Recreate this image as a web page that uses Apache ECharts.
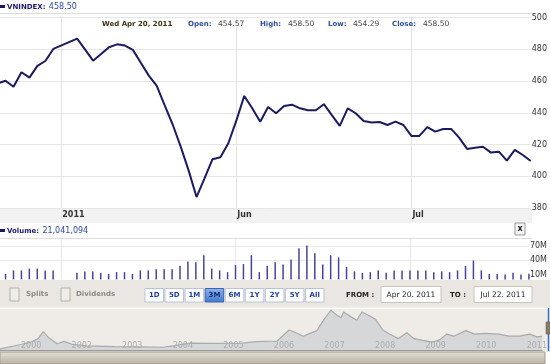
<!DOCTYPE html>
<html><head><meta charset="utf-8">
<script src="https://cdn.jsdelivr.net/npm/echarts@6/dist/echarts.min.js"></script>
<style>html,body{margin:0;padding:0;background:#fff;}#c{width:550px;height:364px;}</style>
</head><body><div id="c"></div>
<script>
// trading-day index (weekdays from Wed Apr 20, 2011 to Fri Jul 22, 2011)
const prices = [458.5,460.2,456.4,465.5,462.1,469.5,472.6,480.2,null,null,
  486.7,479.8,472.8,477.0,481.3,483.1,482.3,479.6,471.5,463.4,
  457.0,444.6,432.6,418.8,403.7,386.9,398.6,410.7,412.0,420.8,
  435.0,450.6,442.8,434.3,443.6,439.7,444.3,445.1,442.8,441.6,
  441.6,445.4,438.5,431.7,442.8,439.7,434.8,433.8,434.2,432.3,
  434.4,432.3,425.4,425.4,430.9,428.1,429.8,429.8,424.3,417.2,
  418.0,418.6,414.9,415.5,409.8,416.6,413.4,409.6];
const volumes = [21.0,11.5,18.8,18.8,22.5,22.5,18.8,18.8,null,null,
  13.7,16.6,16.6,13.7,11.5,15.1,15.1,11.5,18.8,18.8,
  21.0,21.0,21.0,28.3,37.1,35.6,50.3,22.5,18.8,15.1,
  29.8,32.0,50.3,15.1,28.3,35.6,31.2,41.5,64.9,70.7,
  54.6,31.2,50.3,45.9,26.1,16.6,13.7,15.1,18.8,13.7,
  18.8,18.8,18.8,18.8,18.8,15.1,16.6,15.1,18.8,28.3,
  39.3,18.8,11.5,11.5,10.0,13.7,10.0,12.0];
const monthTickIdx = [8, 30, 52];
const monthLabels = ['2011', 'Jun', 'Jul'];
const priceTicks = [380, 400, 420, 440, 460, 480, 500];
const volumeTicks = [10, 40, 70];
const volumeGrid = [40, 70];
// navigator (long-term history), position in label units, index level
const navPos = [-0.616,-0.205,0,0.138,0.24,0.343,0.514,0.651,0.822,1.096,1.645,2.124,2.603,2.809,3.152,3.494,4.178,4.452,4.863,5.103,5.24,5.377,5.514,5.651,5.788,5.926,6.027,6.13,6.179,6.302,6.439,6.542,6.679,6.815,6.953,7.089,7.261,7.432,7.569,7.741,7.945,8.082,8.22,8.356,8.596,8.768,8.973,9.247,9.452,9.657,9.864,10.0,10.105];
const navValues = [51,184,255,357,561,388,204,275,184,143,122,112,102,143,224,214,224,265,286,612,530,428,510,592,918,1193,1071,969,1142,1020,898,1142,1040,918,612,490,357,530,357,306,255,326,490,428,592,490,510,490,428,428,490,408,420];
const navLabels = ['2000','2002','2003','2004','2005','2006','2007','2008','2009','2010','2011'];
const rangeButtons = ['1D','5D','1M','3M','6M','1Y','2Y','5Y','All'];
const selectedRange = '3M';
const header = {name:'VNINDEX:', last:'458.50', date:'Wed Apr 20, 2011', open:'454.57', high:'458.50', low:'454.29', close:'458.50', volume:'21,041,094', from:'Apr 20. 2011', to:'Jul 22. 2011'};

const FONT = 'DejaVu Sans';
const priceData = prices.map((v,i)=>[i,v]);
const volData = volumes.map((v,i)=>[i,v]);
const navData = navPos.map((p,i)=>[p,navValues[i]]);

const chart = echarts.init(document.getElementById('c'), null, {renderer:'canvas'});

const gfx = [];
// controls band + navigator backgrounds
gfx.push({type:'rect', shape:{x:0,y:280,width:550,height:26}, style:{fill:'#eae7e2'}, z:0});
gfx.push({type:'rect', shape:{x:0,y:306,width:550,height:46}, style:{fill:'#efece7'}, z:0});
gfx.push({type:'rect', shape:{x:0,y:352,width:545,height:12}, style:{fill:new echarts.graphic.LinearGradient(0,0,0,1,[{offset:0,color:'#e4dfd6'},{offset:1,color:'#b9b1a3'}]), stroke:'#a39b8d', lineWidth:1}, z:0});
gfx.push({type:'line', shape:{x1:0,y1:308.5,x2:550,y2:308.5}, style:{stroke:'#ffffff', lineWidth:1}, z:5});
// x-axis band
gfx.push({type:'rect', shape:{x:0,y:209,width:532,height:14}, style:{fill:'#f2f2f2'}, z:0});
// header
gfx.push({type:'rect', shape:{x:0,y:5,width:5,height:3}, style:{fill:'#1a1a5e'}, z:10});
gfx.push({type:'text', x:7, y:7, style:{text:'{a|'+header.name+'} {b|'+header.last+'}', verticalAlign:'middle', rich:{a:{font:'bold 7px '+FONT, fill:'#1a1a6e'}, b:{font:'8px '+FONT, fill:'#2a4aa0'}}}, z:10});
gfx.push({type:'line', shape:{x1:0,y1:13.5,x2:532,y2:13.5}, style:{stroke:'#dddddd', lineWidth:1}, z:1});
// info row
const info = [[102,header.date,'#3f3212',1],[188,'Open:','#2f4fa0',1],[218,header.open,'#444',0],[260,'High:','#2f4fa0',1],[288,header.high,'#444',0],[328,'Low:','#2f4fa0',1],[353,header.low,'#444',0],[392,'Close:','#2f4fa0',1],[423,header.close,'#444',0]];
info.forEach(([x,t,c,b])=>{
  gfx.push({type:'text', x:x, y:24, style:{text:t, font:(b?'bold 7px ':'7.5px ')+FONT, fill:c, verticalAlign:'middle'}, z:10});
});
// volume header
gfx.push({type:'rect', shape:{x:0,y:229,width:5,height:3}, style:{fill:'#1a1a5e'}, z:10});
gfx.push({type:'text', x:7, y:231, style:{text:'{a|Volume:} {b|'+header.volume+'}', verticalAlign:'middle', rich:{a:{font:'bold 7px '+FONT, fill:'#1a1a6e'}, b:{font:'8px '+FONT, fill:'#2a4aa0'}}}, z:10});
gfx.push({type:'line', shape:{x1:0,y1:238.5,x2:532,y2:238.5}, style:{stroke:'#dddddd', lineWidth:1}, z:1});
gfx.push({type:'rect', shape:{x:515,y:223,width:10,height:12}, style:{fill:'#f4f4f4', stroke:'#999', lineWidth:1}, z:10});
gfx.push({type:'text', x:520, y:229, style:{text:'x', font:'bold 8px '+FONT, fill:'#222', align:'center', verticalAlign:'middle'}, z:11});
// checkboxes
[[10,'Splits',26],[61,'Dividends',76]].forEach(([x,t,tx])=>{
  gfx.push({type:'rect', shape:{x:x,y:288,width:9,height:13}, style:{fill:'#efede9', stroke:'#b5b0a8', lineWidth:1}, z:10});
  gfx.push({type:'text', x:tx, y:294.5, style:{text:t, font:'bold 7px '+FONT, fill:'#8a8a8a', verticalAlign:'middle'}, z:10});
});
// range buttons
rangeButtons.forEach((t,k)=>{
  const x = 145 + k*20.06;
  const sel = t===selectedRange;
  gfx.push({type:'rect', shape:{x:x,y:288.5,width:18.5,height:13.5}, style:{fill: sel? new echarts.graphic.LinearGradient(0,0,0,1,[{offset:0,color:'#8fb4ea'},{offset:1,color:'#3f78cf'}]) : '#ffffff', stroke: sel?'#3a64b0':'#b9c3d6', lineWidth:1}, z:10});
  gfx.push({type:'text', x:x+9.25, y:295.5, style:{text:t, font:'bold 7px '+FONT, fill: sel?'#1a2a70':'#1f3fa0', align:'center', verticalAlign:'middle'}, z:11});
});
gfx.push({type:'text', x:346, y:295, style:{text:'FROM :', font:'bold 7px '+FONT, fill:'#222', verticalAlign:'middle'}, z:10});
gfx.push({type:'rect', shape:{x:381,y:286.5,width:60,height:16}, style:{fill:'#ffffff', stroke:'#c8c4bc', lineWidth:1}, z:10});
gfx.push({type:'text', x:411, y:295, style:{text:header.from, font:'7.5px '+FONT, fill:'#222', align:'center', verticalAlign:'middle'}, z:11});
gfx.push({type:'text', x:450, y:295, style:{text:'TO :', font:'bold 7px '+FONT, fill:'#222', verticalAlign:'middle'}, z:10});
gfx.push({type:'rect', shape:{x:474,y:286.5,width:58,height:16}, style:{fill:'#ffffff', stroke:'#c8c4bc', lineWidth:1}, z:10});
gfx.push({type:'text', x:503, y:295, style:{text:header.to, font:'7.5px '+FONT, fill:'#222', align:'center', verticalAlign:'middle'}, z:11});
// navigator handle
gfx.push({type:'line', shape:{x1:548.5,y1:308,x2:548.5,y2:351}, style:{stroke:'#3a6fd0', lineWidth:1.5}, z:12});
gfx.push({type:'rect', shape:{x:546,y:322,width:4,height:12}, style:{fill:'#8a7f6a', stroke:'#5a5040', lineWidth:0.5}, z:12});

const option = {
  animation:false,
  backgroundColor:'#ffffff',
  textStyle:{fontFamily:FONT},
  grid:[
    {left:0, top:17.5, width:532, height:190.5},
    {left:0, top:239.1, width:532, height:40.3},
    {left:0, top:309, width:550, height:41.7}
  ],
  xAxis:[
    {type:'value', gridIndex:0, min:0.3, max:67, axisLine:{show:false}, axisTick:{show:false}, splitLine:{show:false},
     axisLabel:{customValues:monthTickIdx, formatter:(v)=>monthLabels[monthTickIdx.indexOf(Math.round(v))]||'', align:'left', padding:[0,0,0,1], margin:3, color:'#333', fontWeight:'bold', fontSize:8, fontFamily:FONT}},
    {type:'value', gridIndex:1, min:0.3, max:67, show:false},
    {type:'value', gridIndex:2, min:-0.616, max:10.105, z:20, axisLine:{show:true, lineStyle:{color:'#9a9a9a'}}, axisTick:{show:false}, splitLine:{show:false},
     axisLabel:{customValues:navLabels.map((_,i)=>i), formatter:(v)=>navLabels[Math.round(v)]||'', inside:true, margin:1, color:'#adadad', fontSize:8, fontFamily:FONT}}
  ],
  yAxis:[
    {type:'value', gridIndex:0, position:'right', min:380, max:500, interval:20, axisLine:{show:false}, axisTick:{show:false},
     splitLine:{show:true, lineStyle:{color:'#e6e6e6', width:1}},
     axisLabel:{margin:1, align:'left', color:'#333', fontSize:8, fontFamily:FONT}},
    {type:'value', gridIndex:1, position:'right', min:0, max:84, axisLine:{show:false}, axisTick:{show:false}, splitLine:{show:false},
     axisLabel:{customValues:volumeTicks, formatter:(v)=>v+'M', margin:1, align:'left', color:'#333', fontSize:8, fontFamily:FONT}},
    {type:'value', gridIndex:2, min:0, max:1230, show:false}
  ],
  series:[
    {type:'line', xAxisIndex:0, yAxisIndex:0, data:[], silent:true, z:1,
     markLine:{silent:true, symbol:'none', label:{show:false}, lineStyle:{color:'#e3e3e3', type:'solid', width:1}, data:monthTickIdx.map(v=>({xAxis:v}))}},
    {type:'line', xAxisIndex:1, yAxisIndex:1, data:[], silent:true, z:1,
     markLine:{silent:true, symbol:'none', label:{show:false}, lineStyle:{color:'#e8e8e8', type:'solid', width:1}, data:monthTickIdx.map(v=>({xAxis:v})).concat(volumeGrid.map(v=>({yAxis:v})))}},
    {type:'line', xAxisIndex:0, yAxisIndex:0, data:priceData, connectNulls:true, showSymbol:false, symbol:'none', z:5,
     lineStyle:{color:'#1b1b5f', width:2}},
    {type:'bar', xAxisIndex:1, yAxisIndex:1, data:volData, barWidth:1.5, z:5, itemStyle:{color:'#45459a'}},
    {type:'line', xAxisIndex:2, yAxisIndex:2, data:navData, showSymbol:false, symbol:'none', z:3,
     lineStyle:{color:'#a9aaad', width:1.2}, areaStyle:{color:'#d6d7d9', opacity:1}}
  ],
  graphic: gfx
};
chart.setOption(option);
</script></body></html>
